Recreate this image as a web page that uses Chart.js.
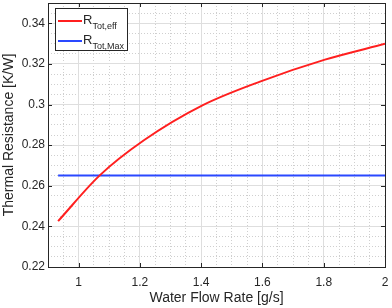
<!DOCTYPE html>
<html>
<head>
<meta charset="utf-8">
<script src="https://cdn.jsdelivr.net/npm/chart.js@4"></script>
<style>
  html, body { margin: 0; padding: 0; background: #fff; }
  #wrap { width: 392px; height: 308px; }
</style>
</head>
<body>
<div id="wrap"><canvas id="chart"></canvas></div>
<script>
// flow rate [g/s] and resistance [K/W]
const flowRate = [0.933, 1.068, 1.213, 1.404, 1.592, 1.804, 2.0];
const rTotEff = [0.2426, 0.2650, 0.2824, 0.2996, 0.3113, 0.3221, 0.3299];
const rTotMaxX = [0.933, 2.0];
const rTotMax = [0.265, 0.265];

const xTicks = [1, 1.2, 1.4, 1.6, 1.8, 2];
const yTicks = [0.22, 0.24, 0.26, 0.28, 0.3, 0.32, 0.34];
const xMinor = [0.95, 1.05, 1.1, 1.15, 1.25, 1.3, 1.35, 1.45, 1.5, 1.55, 1.65, 1.7, 1.75, 1.85, 1.9, 1.95];
const yMinor = [0.225, 0.23, 0.235, 0.245, 0.25, 0.255, 0.265, 0.27, 0.275, 0.285, 0.29, 0.295,
  0.305, 0.31, 0.315, 0.325, 0.33, 0.335, 0.345];

const legendItems = [
  { main: "R", sub: "Tot,eff", color: "#ff1f1f" },
  { main: "R", sub: "Tot,Max", color: "#2a48ff" },
];

const FONT = "'Liberation Sans', Arial, Helvetica, sans-serif";
const AXIS = "#262626";

const toPts = (xs, ys) => xs.map((x, i) => ({ x, y: ys[i] }));
const fmt = v => String(+v.toFixed(2));
const noPad = s => { s.paddingTop = 0; s.paddingBottom = 0; s.paddingLeft = 0; s.paddingRight = 0; };

// box around plot + inward ticks (matlab style)
const boxPlugin = {
  id: "box",
  afterDraw(chart) {
    const { ctx, chartArea: a } = chart;
    const x = chart.scales.x, y = chart.scales.y;
    ctx.save();
    ctx.strokeStyle = AXIS;
    ctx.lineWidth = 1;
    ctx.beginPath();
    xTicks.forEach(v => {
      const px = Math.round(x.getPixelForValue(v)) + 0.5;
      ctx.moveTo(px, a.bottom); ctx.lineTo(px, a.bottom - 4);
      ctx.moveTo(px, a.top); ctx.lineTo(px, a.top + 4);
    });
    yTicks.forEach(v => {
      const py = Math.round(y.getPixelForValue(v)) + 0.5;
      ctx.moveTo(a.left, py); ctx.lineTo(a.left + 4, py);
      ctx.moveTo(a.right, py); ctx.lineTo(a.right - 4, py);
    });
    ctx.stroke();
    ctx.strokeRect(Math.round(a.left) + 0.5, Math.round(a.top) + 0.5,
      Math.round(a.right - a.left), Math.round(a.bottom - a.top));
    ctx.restore();
  }
};

// legend with subscripts
const legendPlugin = {
  id: "subLegend",
  afterDraw(chart) {
    const { ctx, chartArea: a } = chart;
    const bx = a.left + 7, by = a.top + 5, bw = 72, bh = 42;
    ctx.save();
    ctx.fillStyle = "#fff";
    ctx.fillRect(bx, by, bw, bh);
    ctx.strokeStyle = AXIS;
    ctx.lineWidth = 1;
    ctx.strokeRect(bx + 0.5, by + 0.5, bw, bh);
    legendItems.forEach((it, i) => {
      const cy = by + 13 + i * 20;
      ctx.strokeStyle = it.color;
      ctx.lineWidth = 2;
      ctx.beginPath();
      ctx.moveTo(bx + 3, cy); ctx.lineTo(bx + 27, cy);
      ctx.stroke();
      ctx.fillStyle = AXIS;
      ctx.textBaseline = "alphabetic";
      ctx.font = "13px " + FONT;
      ctx.fillText(it.main, bx + 28, cy + 3);
      const w = ctx.measureText(it.main).width;
      ctx.font = "9px " + FONT;
      ctx.fillText(it.sub, bx + 28 + w, cy + 8);
    });
    ctx.restore();
  }
};

new Chart(document.getElementById("chart"), {
  type: "line",
  data: {
    datasets: [
      {
        label: "R Tot,eff",
        data: toPts(flowRate, rTotEff),
        borderColor: "#ff1f1f",
        borderWidth: 2,
        pointRadius: 0,
        cubicInterpolationMode: "monotone",
      },
      {
        label: "R Tot,Max",
        data: toPts(rTotMaxX, rTotMax),
        borderColor: "#2a48ff",
        borderWidth: 2,
        pointRadius: 0,
      },
    ],
  },
  options: {
    responsive: true,
    maintainAspectRatio: false,
    animation: false,
    layout: { padding: { left: 0, right: 7, top: 3, bottom: 0 } },
    plugins: { legend: { display: false }, tooltip: { enabled: false } },
    scales: {
      xMinor: {
        type: "linear", axis: "x", position: "bottom", min: 0.9, max: 2,
        afterBuildTicks: s => { s.ticks = xMinor.map(v => ({ value: v })); },
        afterFit: s => { s.height = 0; noPad(s); },
        ticks: { display: false },
        border: { display: false, dash: [1, 2] },
        grid: { color: "#cfcfcf", lineWidth: 1, drawTicks: false },
      },
      yMinor: {
        type: "linear", axis: "y", position: "left", min: 0.22, max: 0.35,
        afterBuildTicks: s => { s.ticks = yMinor.map(v => ({ value: v })); },
        afterFit: s => { s.width = 0; noPad(s); },
        ticks: { display: false },
        border: { display: false, dash: [1, 2] },
        grid: { color: "#cfcfcf", lineWidth: 1, drawTicks: false },
      },
      x: {
        type: "linear", min: 0.9, max: 2,
        afterBuildTicks: s => { s.ticks = xTicks.map(v => ({ value: v })); },
        afterFit: s => { s.height = 41; noPad(s); },
        ticks: { callback: fmt, color: AXIS, padding: 8, maxRotation: 0, font: { family: FONT, size: 12 } },
        grid: { color: "#dedede", drawTicks: false },
        border: { display: false },
        title: { display: true, text: "Water Flow Rate [g/s]", color: AXIS, padding: { top: 0, bottom: 1 }, font: { family: FONT, size: 14 } },
      },
      y: {
        type: "linear", min: 0.22, max: 0.35,
        afterBuildTicks: s => { s.ticks = yTicks.map(v => ({ value: v })); },
        afterFit: s => { s.width = 48; noPad(s); },
        ticks: { callback: fmt, color: AXIS, padding: 3, font: { family: FONT, size: 12 } },
        grid: { color: "#dedede", drawTicks: false },
        border: { display: false },
        title: { display: true, text: "Thermal Resistance [K/W]", color: AXIS, padding: { top: 1, bottom: 0 }, font: { family: FONT, size: 14 } },
      },
    },
  },
  plugins: [boxPlugin, legendPlugin],
});
</script>
</body>
</html>
